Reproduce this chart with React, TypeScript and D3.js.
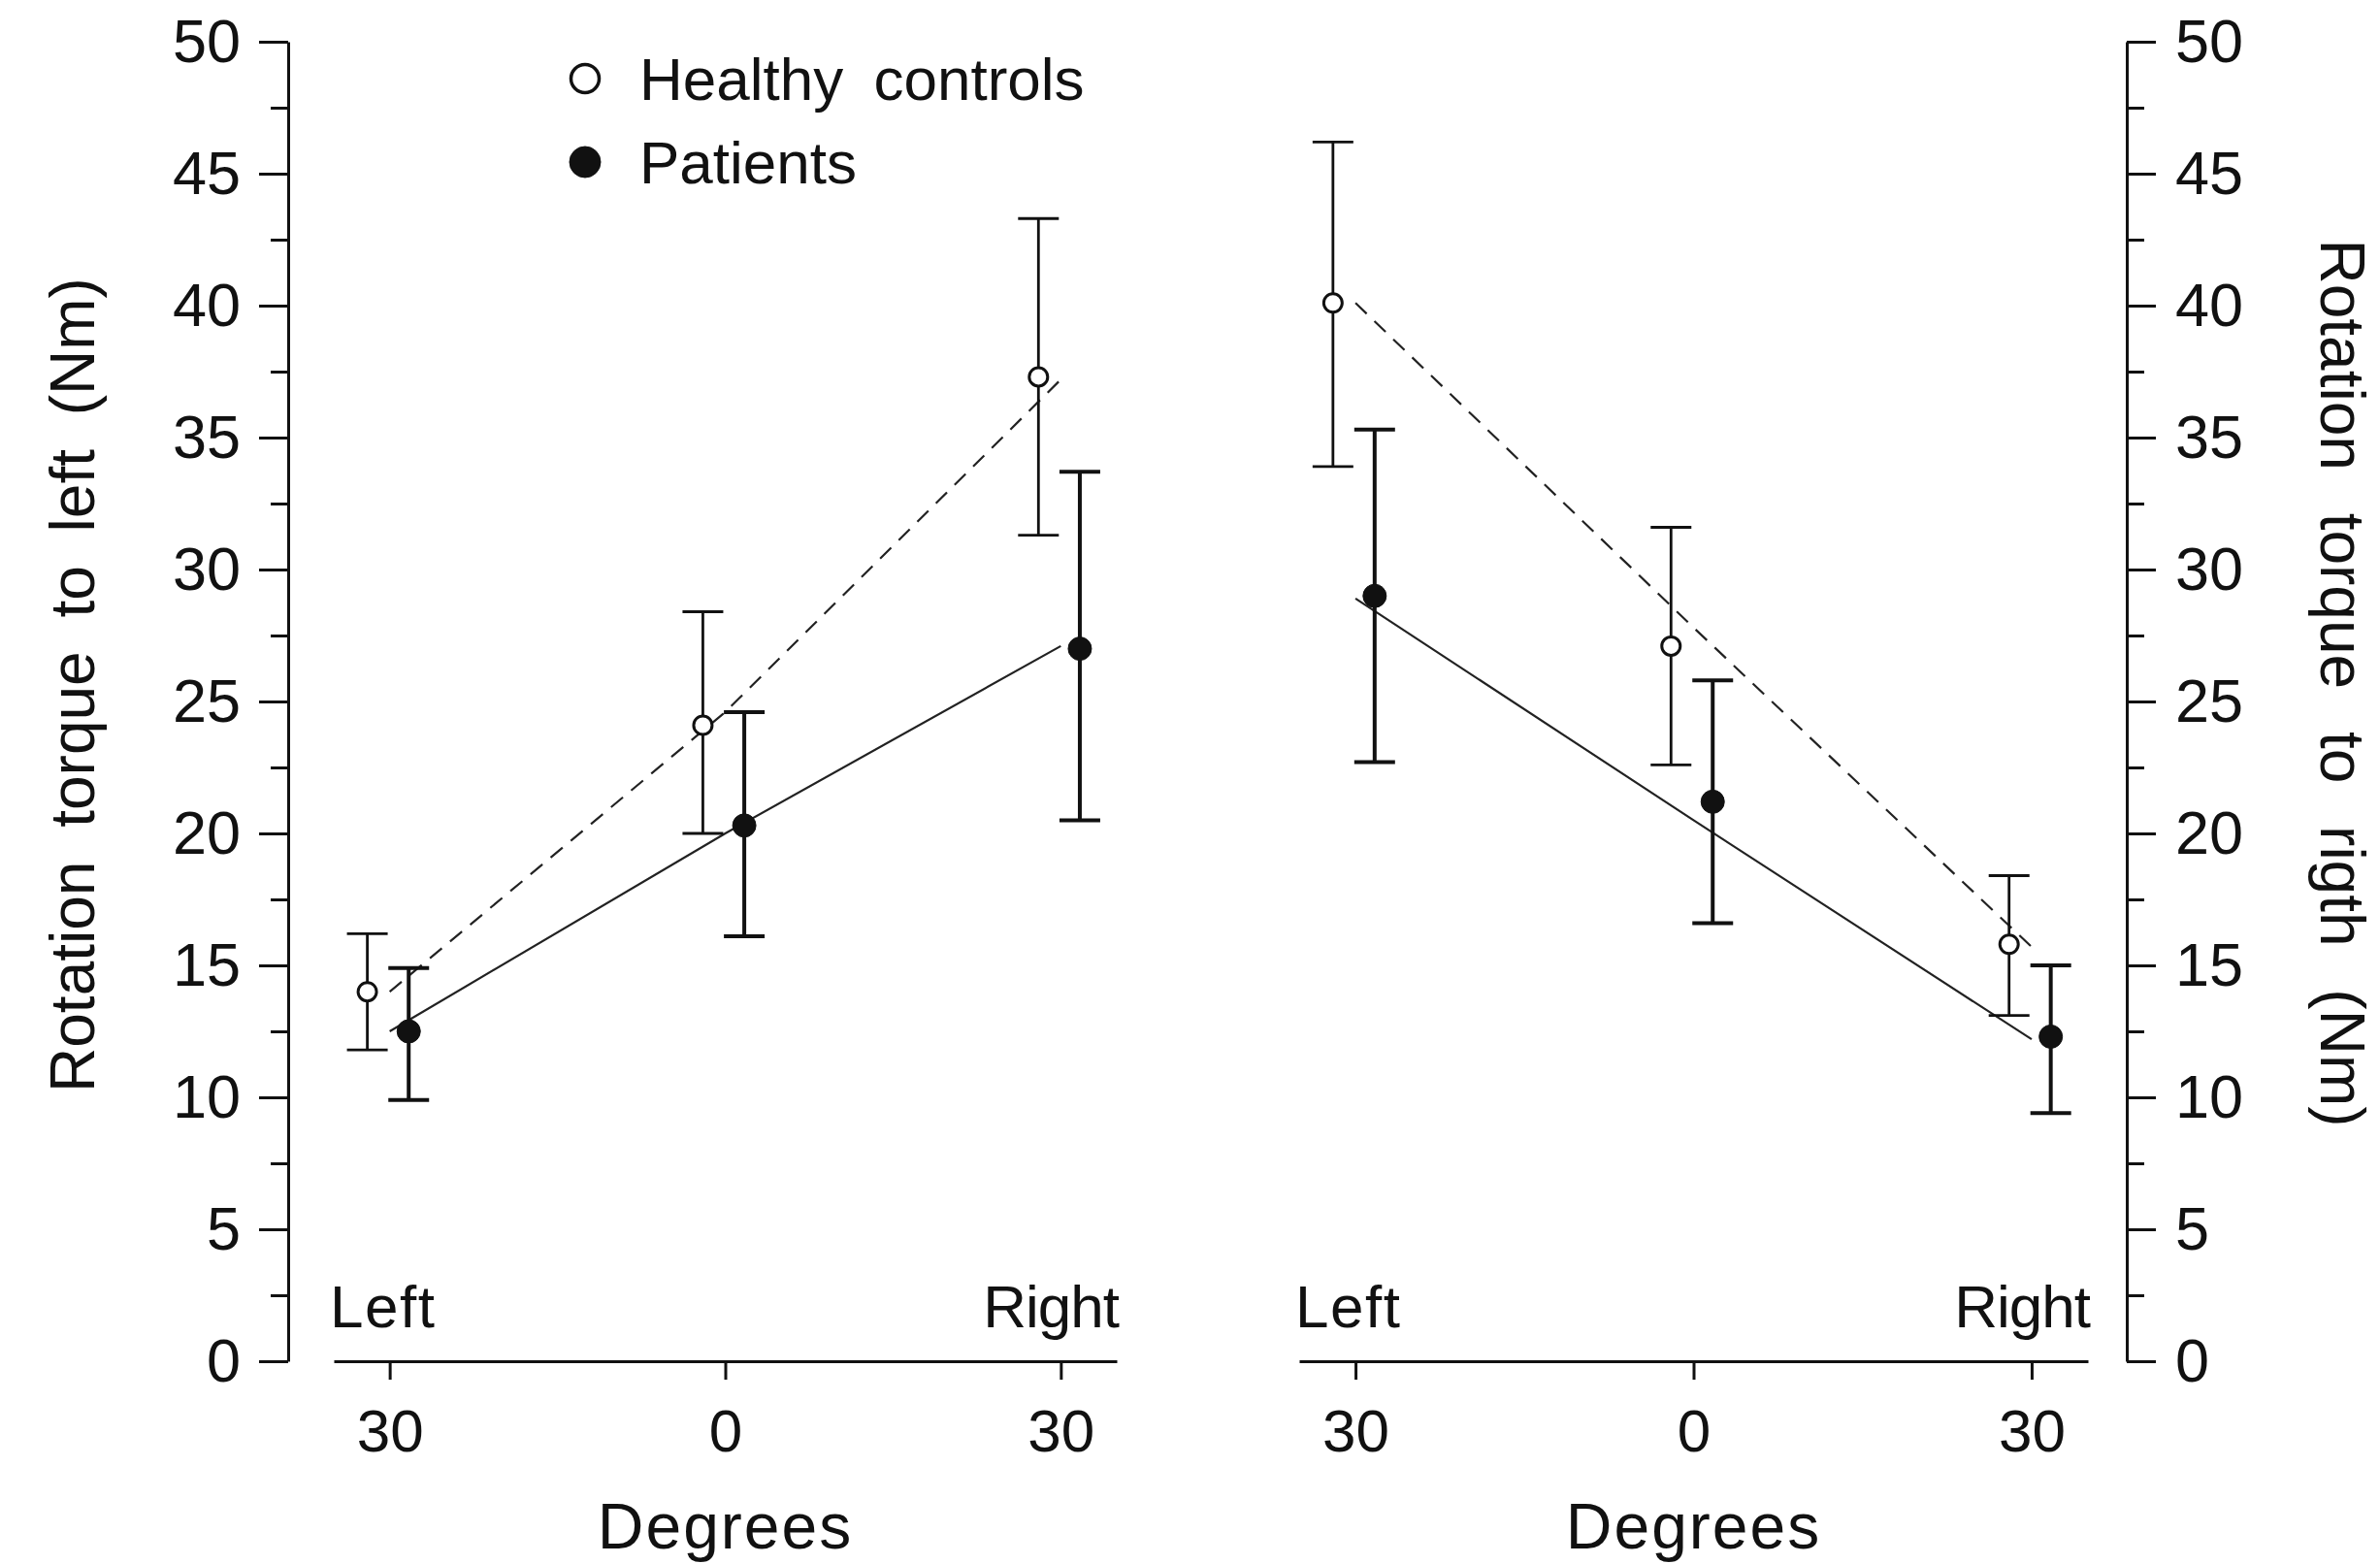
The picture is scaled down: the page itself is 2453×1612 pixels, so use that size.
import React, { useEffect, useRef } from "react";
import * as d3 from "d3";

// x positions of the three head rotations (deg, left negative)
const degrees = [-30, 0, 30];
const yTicks = [0, 5, 10, 15, 20, 25, 30, 35, 40, 45, 50];
const yMinorTicks = [2.5, 7.5, 12.5, 17.5, 22.5, 27.5, 32.5, 37.5, 42.5, 47.5];

// Rotation torque to left (Nm)
const leftHealthyMean = [14.0, 24.1, 37.3];
const leftHealthyHigh = [16.2, 28.4, 43.3];
const leftHealthyLow = [11.8, 20.0, 31.3];
const leftPatientMean = [12.5, 20.3, 27.0];
const leftPatientHigh = [14.9, 24.6, 33.7];
const leftPatientLow = [9.9, 16.1, 20.5];
const leftHealthyLine = [14.0, 24.6, 37.2];
const leftPatientLine = [12.5, 20.0, 27.1];

// Rotation torque to right (Nm)
const rightHealthyMean = [40.1, 27.1, 15.8];
const rightHealthyHigh = [46.2, 31.6, 18.4];
const rightHealthyLow = [33.9, 22.6, 13.1];
const rightPatientMean = [29.0, 21.2, 12.3];
const rightPatientHigh = [35.3, 25.8, 15.0];
const rightPatientLow = [22.7, 16.6, 9.4];
const rightHealthyLine = [40.1, 27.8, 15.7];
const rightPatientLine = [28.9, 20.5, 12.2];

const legendLabels = ["Healthy controls", "Patients"];

const W = 2453;
const H = 1612;
const FONT = "'Liberation Sans', Arial, sans-serif";

export default function App() {
    const ref = useRef(null);

    useEffect(() => {
        const svg = d3.select(ref.current);
        svg.selectAll("*").remove();

        const y = d3.scaleLinear().domain([0, 50]).range([1403, 43]);
        const xLeft = d3.scaleLinear().domain([-35, 35]).range([344, 1151]);
        const xRight = d3.scaleLinear().domain([-35, 35]).range([1339, 2152]);

        const hcShift = -2; // open circles drawn a bit left of the tick
        const ptShift = 1.7; // filled circles a bit right

        const styleAxis = (g, fs) => {
            g.attr("font-family", FONT).attr("font-size", fs);
            g.selectAll("line").attr("stroke", "#111").attr("stroke-width", 3);
            g.selectAll("path").attr("stroke", "#111").attr("stroke-width", 3);
            g.selectAll("text").attr("fill", "#111");
        };

        // left y axis
        svg.append("g")
            .attr("transform", "translate(297,0)")
            .call(d3.axisLeft(y).tickValues(yTicks).tickSize(30).tickSizeOuter(0).tickPadding(19))
            .call((g) => styleAxis(g, 63));
        svg.append("g")
            .attr("transform", "translate(297,0)")
            .call(d3.axisLeft(y).tickValues(yMinorTicks).tickSize(18).tickFormat(() => ""))
            .call((g) => g.select(".domain").remove())
            .call((g) => styleAxis(g, 63));

        // right y axis
        svg.append("g")
            .attr("transform", "translate(2192,0)")
            .call(d3.axisRight(y).tickValues(yTicks).tickSize(30).tickSizeOuter(0).tickPadding(20))
            .call((g) => styleAxis(g, 63));
        svg.append("g")
            .attr("transform", "translate(2192,0)")
            .call(d3.axisRight(y).tickValues(yMinorTicks).tickSize(18).tickFormat(() => ""))
            .call((g) => g.select(".domain").remove())
            .call((g) => styleAxis(g, 63));

        // y axis titles
        svg.append("text")
            .attr("transform", `translate(97,706) rotate(-90)`)
            .attr("text-anchor", "middle")
            .attr("font-family", FONT)
            .attr("font-size", 64)
            .attr("word-spacing", 17)
            .attr("fill", "#111")
            .text("Rotation torque to left (Nm)");
        svg.append("text")
            .attr("transform", `translate(2392,704) rotate(90)`)
            .attr("text-anchor", "middle")
            .attr("font-family", FONT)
            .attr("font-size", 64)
            .attr("word-spacing", 26)
            .attr("fill", "#111")
            .text("Rotation torque to rigth (Nm)");

        const panels = [
            {
                x: xLeft,
                hc: [leftHealthyMean, leftHealthyLow, leftHealthyHigh, leftHealthyLine],
                pt: [leftPatientMean, leftPatientLow, leftPatientHigh, leftPatientLine],
            },
            {
                x: xRight,
                hc: [rightHealthyMean, rightHealthyLow, rightHealthyHigh, rightHealthyLine],
                pt: [rightPatientMean, rightPatientLow, rightPatientHigh, rightPatientLine],
            },
        ];

        panels.forEach((p) => {
            const x = p.x;
            // bottom axis
            svg.append("g")
                .attr("transform", "translate(0,1403)")
                .call(
                    d3.axisBottom(x)
                        .tickValues(degrees)
                        .tickSize(19)
                        .tickSizeOuter(0)
                        .tickPadding(30)
                        .tickFormat((d) => String(Math.abs(d)))
                )
                .call((g) => styleAxis(g, 62));

            const [r0, r1] = x.range();
            svg.append("text")
                .attr("x", r0 - 4)
                .attr("y", 1368)
                .attr("font-family", FONT)
                .attr("font-size", 62)
                .attr("letter-spacing", 1.5)
                .attr("fill", "#111")
                .text("Left");
            svg.append("text")
                .attr("x", r1 + 2)
                .attr("y", 1368)
                .attr("text-anchor", "end")
                .attr("font-family", FONT)
                .attr("font-size", 62)
                .attr("letter-spacing", -1)
                .attr("fill", "#111")
                .text("Right");
            svg.append("text")
                .attr("x", x(0))
                .attr("y", 1596)
                .attr("text-anchor", "middle")
                .attr("font-family", FONT)
                .attr("font-size", 66)
                .attr("letter-spacing", 2)
                .attr("fill", "#111")
                .text("Degrees");

            // connecting lines
            const line = d3.line().x((d) => x(d[0])).y((d) => y(d[1]));
            svg.append("path")
                .attr("d", line(degrees.map((d, i) => [d, p.hc[3][i]])))
                .attr("fill", "none")
                .attr("stroke", "#222")
                .attr("stroke-width", 2.2)
                .attr("stroke-dasharray", "16,11");
            svg.append("path")
                .attr("d", line(degrees.map((d, i) => [d, p.pt[3][i]])))
                .attr("fill", "none")
                .attr("stroke", "#222")
                .attr("stroke-width", 2.2);

            // error bars + markers
            [
                { s: p.hc, shift: hcShift, open: true, sw: 2.8 },
                { s: p.pt, shift: ptShift, open: false, sw: 4 },
            ].forEach(({ s, shift, open, sw }) => {
                const [mean, lo, hi] = s;
                const g = svg.append("g").attr("stroke", "#111").attr("stroke-width", sw);
                degrees.forEach((d, i) => {
                    const cx = x(d + shift);
                    g.append("line").attr("x1", cx).attr("x2", cx).attr("y1", y(lo[i])).attr("y2", y(hi[i]));
                    g.append("line").attr("x1", cx - 21).attr("x2", cx + 21).attr("y1", y(hi[i])).attr("y2", y(hi[i]));
                    g.append("line").attr("x1", cx - 21).attr("x2", cx + 21).attr("y1", y(lo[i])).attr("y2", y(lo[i]));
                    g.append("circle")
                        .attr("cx", cx)
                        .attr("cy", y(mean[i]))
                        .attr("r", open ? 9.5 : 12)
                        .attr("fill", open ? "#fff" : "#111")
                        .attr("stroke-width", open ? 3 : 1);
                });
            });
        });

        // legend
        const lg = svg.append("g").attr("font-family", FONT).attr("font-size", 62).attr("fill", "#111");
        legendLabels.forEach((label, i) => {
            const cy = 81 + i * 86;
            lg.append("circle")
                .attr("cx", 603)
                .attr("cy", cy)
                .attr("r", i === 0 ? 14.5 : 16)
                .attr("fill", i === 0 ? "#fff" : "#111")
                .attr("stroke", "#111")
                .attr("stroke-width", i === 0 ? 3.5 : 1);
            lg.append("text")
                .attr("x", 659)
                .attr("y", cy + 22)
                .attr("word-spacing", 14)
                .text(label);
        });
    }, []);

    return (
        <svg
            ref={ref}
            width={W}
            height={H}
            style={{ position: "absolute", left: 0, top: 0, background: "#fff" }}
        />
    );
}
